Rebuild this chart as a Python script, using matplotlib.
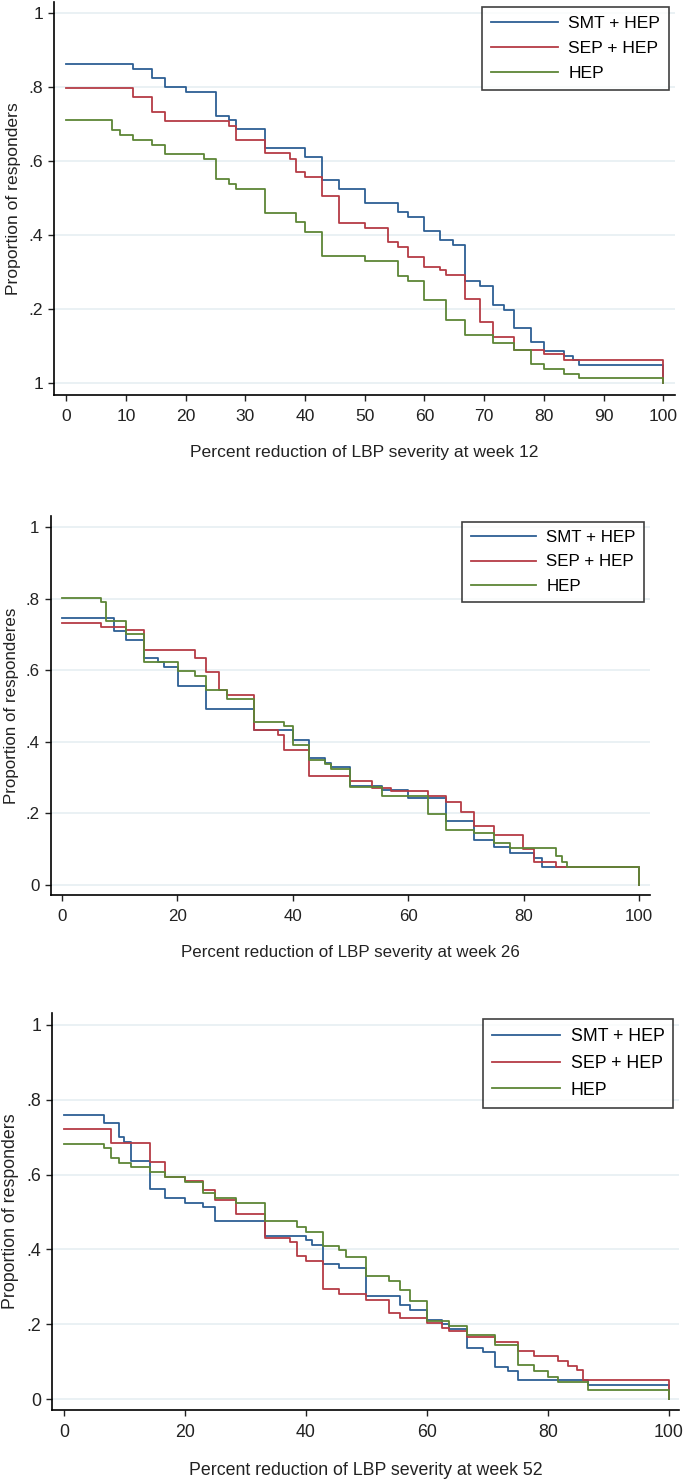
"""
Proportion of responders by percent reduction of LBP severity,
weeks 12, 26 and 52 -- three stacked step plots, Stata look.
"""

import matplotlib
matplotlib.use("Agg")
import matplotlib.pyplot as plt

plt.rcParams["font.family"] = ["Liberation Sans", "DejaVu Sans"]

W, H = 685, 1479

GROUPS = ["SMT + HEP", "SEP + HEP", "HEP"]
COLORS = ["#2d5f94", "#b53c45", "#5d8636"]
GRID_COLOR = "#e6eff2"

# ---- week 12 ----
blue1_x = [0, 11.1, 14.3, 16.6, 20, 25, 27.3, 28.5, 33.3, 40, 42.9, 45.7, 50,
           55.6, 57.2, 60, 62.6, 64.8, 66.8, 69.3, 71.5, 73.4, 75, 77.8, 80,
           83.4, 84.8, 85.8, 100]
blue1_y = [0.862, 0.848, 0.824, 0.800, 0.787, 0.723, 0.711, 0.687, 0.636,
           0.612, 0.549, 0.525, 0.487, 0.462, 0.448, 0.412, 0.387, 0.374,
           0.275, 0.262, 0.212, 0.199, 0.150, 0.112, 0.087, 0.074, 0.062,
           0.049, 0]
red1_x = [0, 11.1, 14.3, 16.6, 27.3, 28.5, 33.3, 37.4, 38.4, 40, 42.9, 45.7,
          50, 53.9, 55.6, 57.2, 60, 62.6, 63.6, 66.8, 69.3, 71.5, 75, 80,
          83.4, 100]
red1_y = [0.797, 0.772, 0.733, 0.709, 0.696, 0.658, 0.621, 0.607, 0.571,
          0.558, 0.507, 0.432, 0.418, 0.382, 0.368, 0.342, 0.315, 0.305,
          0.292, 0.228, 0.166, 0.125, 0.090, 0.079, 0.063, 0]
green1_x = [0, 7.65, 9.0, 11.1, 14.3, 16.6, 23.1, 25, 27.3, 28.5, 33.3, 38.4,
            40, 42.9, 50, 55.6, 57.2, 60, 63.6, 66.8, 71.5, 75, 77.8, 80,
            83.4, 85.8, 100]
green1_y = [0.710, 0.685, 0.670, 0.658, 0.644, 0.618, 0.605, 0.551, 0.539,
            0.526, 0.461, 0.436, 0.409, 0.343, 0.330, 0.290, 0.276, 0.224,
            0.170, 0.131, 0.108, 0.090, 0.052, 0.039, 0.025, 0.013, 0]

# ---- week 26 ----
blue2_x = [0, 9.1, 11.1, 14.3, 16.7, 17.7, 20.1, 25, 33.3, 40, 42.9, 45.6,
           46.6, 50, 55.5, 60, 66.6, 71.4, 74.9, 77.7, 81.8, 83.2, 100]
blue2_y = [0.746, 0.709, 0.684, 0.633, 0.622, 0.608, 0.557, 0.493, 0.432,
           0.405, 0.354, 0.342, 0.330, 0.276, 0.265, 0.242, 0.178, 0.126,
           0.105, 0.090, 0.075, 0.050, 0]
red2_x = [0, 6.75, 11.1, 14.3, 23.1, 25, 27.3, 28.6, 33.3, 37.5, 38.5, 42.9,
          50, 53.8, 57.1, 63.5, 66.6, 69.2, 71.4, 74.9, 79.9, 81.8, 85.7, 100]
red2_y = [0.733, 0.722, 0.712, 0.656, 0.634, 0.594, 0.546, 0.531, 0.432,
          0.418, 0.378, 0.305, 0.290, 0.272, 0.262, 0.250, 0.233, 0.204,
          0.165, 0.140, 0.100, 0.065, 0.050, 0]
green2_x = [0, 6.75, 7.7, 11.1, 14.3, 20.1, 23.1, 25, 28.6, 33.3, 38.5, 40,
            42.9, 45.6, 46.6, 50, 55.5, 63.5, 66.6, 71.4, 74.9, 77.7, 85.6,
            86.6, 87.6, 100]
green2_y = [0.803, 0.790, 0.739, 0.701, 0.624, 0.598, 0.585, 0.546, 0.520,
            0.455, 0.443, 0.390, 0.350, 0.338, 0.325, 0.275, 0.250, 0.197,
            0.155, 0.145, 0.118, 0.104, 0.080, 0.065, 0.050, 0]

# ---- week 52 ----
blue3_x = [0, 6.7, 9.1, 10.0, 11.1, 14.3, 16.7, 20, 23, 25, 33.2, 40, 41,
           42.8, 45.5, 50, 55.5, 57.2, 60, 62.5, 63.6, 66.7, 69.3, 71.3, 73.4,
           75, 86.6, 100]
blue3_y = [0.760, 0.737, 0.700, 0.687, 0.637, 0.562, 0.537, 0.525, 0.513,
           0.475, 0.437, 0.425, 0.412, 0.362, 0.350, 0.276, 0.252, 0.239,
           0.212, 0.200, 0.188, 0.137, 0.125, 0.087, 0.075, 0.050, 0.037, 0]
red3_x = [0, 7.7, 14.3, 16.7, 20, 23, 25, 28.5, 33.2, 37.4, 38.5, 40, 42.8,
          45.5, 50, 53.8, 55.5, 60, 62.5, 63.6, 66.7, 71.3, 75, 77.8, 81.7,
          83.3, 84.8, 85.8, 100]
red3_y = [0.722, 0.684, 0.634, 0.594, 0.582, 0.558, 0.533, 0.495, 0.432,
          0.420, 0.382, 0.370, 0.295, 0.280, 0.265, 0.230, 0.216, 0.203,
          0.190, 0.181, 0.167, 0.152, 0.129, 0.114, 0.103, 0.089, 0.077,
          0.050, 0]
green3_x = [0, 6.7, 7.7, 9.1, 11.1, 14.3, 16.7, 20, 23, 25, 28.5, 33.2, 38.5,
            40, 42.8, 45.5, 46.6, 50, 53.8, 55.5, 57.2, 60, 63.6, 66.7, 71.3,
            75, 77.8, 80, 81.7, 86.6, 100]
green3_y = [0.683, 0.670, 0.645, 0.632, 0.620, 0.607, 0.594, 0.580, 0.552,
            0.538, 0.525, 0.475, 0.460, 0.448, 0.410, 0.399, 0.381, 0.330,
            0.317, 0.292, 0.262, 0.208, 0.196, 0.172, 0.146, 0.090, 0.075,
            0.060, 0.045, 0.025, 0]

Y_TICKS = [0, 0.2, 0.4, 0.6, 0.8, 1.0]

PANELS = [
    dict(series=[(blue1_x, blue1_y), (red1_x, red1_y), (green1_x, green1_y)],
         xticks=list(range(0, 101, 10)),
         ylabels=["1", ".2", ".4", ".6", ".8", "1"],
         ylabel="Proportion of responders",
         xlabel="Percent reduction of LBP severity at week 12",
         box=(54, 675, 2, 395), xlim=(-2.06, 101.96), ylim=(-0.032, 1.03),
         scale=1.0, legend=(669, 7.3)),
    dict(series=[(blue2_x, blue2_y), (red2_x, red2_y), (green2_x, green2_y)],
         xticks=list(range(0, 101, 20)),
         ylabels=["0", ".2", ".4", ".6", ".8", "1"],
         ylabel="Proportion of responderes",
         xlabel="Percent reduction of LBP severity at week 26",
         box=(50.7, 650, 516, 895), xlim=(-1.9, 101.9), ylim=(-0.028, 1.031),
         scale=0.967, legend=(644, 521.7)),
    dict(series=[(blue3_x, blue3_y), (red3_x, red3_y), (green3_x, green3_y)],
         xticks=list(range(0, 101, 20)),
         ylabels=["0", ".2", ".4", ".6", ".8", "1"],
         ylabel="Proportion of responders",
         xlabel="Percent reduction of LBP severity at week 52",
         box=(52.3, 679, 1013, 1410), xlim=(-1.93, 101.7), ylim=(-0.029, 1.032),
         scale=1.013, legend=(673.3, 1019.3)),
]

fig = plt.figure(figsize=(W / 100, H / 100), dpi=100)

for p in PANELS:
    l, r, t, b = p["box"]
    ax = fig.add_axes([l / W, 1 - b / H, (r - l) / W, (b - t) / H])
    fs = 12.6 * p["scale"]

    for (xs, ys), c, name in zip(p["series"], COLORS, GROUPS):
        ax.step(xs, ys, where="post", color=c, lw=1.3, label=name)

    ax.set_xlim(*p["xlim"])
    ax.set_ylim(*p["ylim"])
    ax.set_xticks(p["xticks"])
    ax.set_yticks(Y_TICKS)
    ax.set_yticklabels(p["ylabels"])
    ax.grid(axis="y", color=GRID_COLOR, lw=1.2)
    ax.set_axisbelow(True)
    for side in ("top", "right"):
        ax.spines[side].set_visible(False)
    for side in ("left", "bottom"):
        ax.spines[side].set_linewidth(1.2)
    ax.tick_params(direction="out", length=4.5, width=1.0, labelsize=fs,
                   colors="#222222")
    ax.tick_params(axis="x", pad=5.5)
    ax.tick_params(axis="y", pad=3.5)
    ax.set_xlabel(p["xlabel"], fontsize=fs, labelpad=15, color="#222222")
    ax.set_ylabel(p["ylabel"], fontsize=fs, labelpad=5, color="#222222")

    lx, ly = p["legend"]
    leg = ax.legend(loc="upper right", bbox_to_anchor=(lx / W, 1 - ly / H),
                    bbox_transform=fig.transFigure, borderaxespad=0,
                    fontsize=fs, fancybox=False, frameon=True,
                    handlelength=3.85, handletextpad=0.6, labelspacing=0.55,
                    borderpad=0.5)
    leg.get_frame().set_edgecolor("#111111")
    leg.get_frame().set_linewidth(1.2)

fig.savefig("out.png", dpi=100)
